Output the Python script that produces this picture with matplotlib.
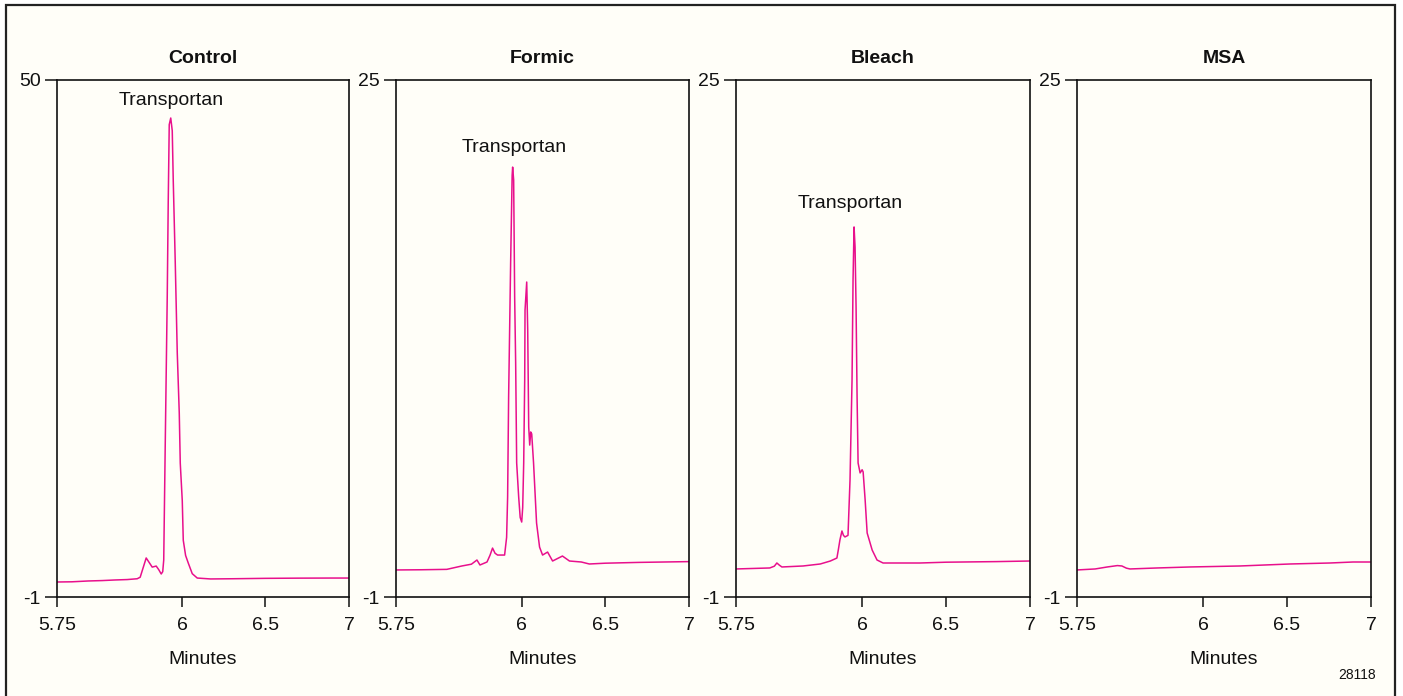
import numpy as np
import matplotlib
matplotlib.use("Agg")
import matplotlib.pyplot as plt
from matplotlib.patches import Rectangle
from matplotlib import font_manager as fm

_names = {f.name for f in fm.fontManager.ttflist}
if "Liberation Sans Narrow" in _names:
    FAMILY, FS, FS_SMALL = "Liberation Sans Narrow", 15, 11
elif "DejaVu Sans Condensed" in _names:
    FAMILY, FS, FS_SMALL = "DejaVu Sans Condensed", 13, 10
else:
    FAMILY, FS, FS_SMALL = "Liberation Sans", 14, 10
plt.rcParams['font.family'] = [FAMILY, 'DejaVu Sans']

# ---------------- data ----------------
panel_titles = ["Control", "Formic", "Bleach", "MSA"]
y_max = [50, 25, 25, 25]
y_min = -1
x_ticks = [5.75, 6, 6.5, 7]
x_tick_labels = ["5.75", "6", "6.5", "7"]

control_t = [5.75, 5.78, 5.812, 5.84, 5.866, 5.89, 5.91, 5.916, 5.922, 5.928, 5.934, 5.94,
             5.948, 5.953, 5.958, 5.961, 5.963, 5.966, 5.970, 5.972, 5.974, 5.977, 5.980,
             5.982, 5.986, 5.990, 5.994, 5.996, 6.0, 6.006, 6.02, 6.036, 6.06, 6.09, 6.17,
             6.3, 6.5, 6.7, 6.9, 7.0]
control_v = [0.48, 0.50, 0.58, 0.62, 0.68, 0.72, 0.80, 0.95, 1.9, 2.85, 2.4, 1.95,
             2.05, 1.7, 1.27, 1.5, 2.65, 14.0, 28.6, 38.0, 45.6, 46.25, 45.0,
             40.1, 32.0, 23.1, 17.15, 12.2, 8.5, 4.6, 3.1, 2.35, 1.3, 0.87, 0.78,
             0.80, 0.84, 0.86, 0.87, 0.87]

formic_t = [5.75, 5.80, 5.851, 5.881, 5.90, 5.911, 5.917, 5.931, 5.937, 5.942, 5.947, 5.952,
            5.966, 5.970, 5.972, 5.974, 5.978, 5.981, 5.982, 5.984, 5.986, 5.988, 5.990,
            5.994, 5.997, 6.0, 6.006, 6.012, 6.018, 6.02, 6.03, 6.036, 6.042, 6.048, 6.054,
            6.06, 6.071, 6.089, 6.107, 6.125, 6.155, 6.185, 6.244, 6.286, 6.357, 6.405,
            6.5, 6.7, 7.0]
formic_v = [0.36, 0.37, 0.39, 0.56, 0.65, 0.86, 0.61, 0.76, 1.1, 1.46, 1.2, 1.11,
            1.11, 2.0, 4.03, 9.06, 15.8, 20.2, 20.62, 19.97, 14.09, 10.77, 5.74,
            4.03, 3.0, 2.77, 3.5, 5.74, 9.91, 13.43, 14.84, 12.43, 7.55, 6.64, 7.3,
            7.2, 5.74, 2.72, 1.51, 1.11, 1.26, 0.81, 1.06, 0.81, 0.76, 0.66,
            0.70, 0.74, 0.78]

bleach_t = [5.75, 5.817, 5.826, 5.831, 5.836, 5.841, 5.883, 5.917, 5.937, 5.95, 5.953,
            5.956, 5.96, 5.963, 5.966, 5.972, 5.976, 5.98, 5.982, 5.984, 5.986, 5.988,
            5.99, 5.992, 5.996, 6.0, 6.006, 6.018, 6.030, 6.06, 6.089, 6.125, 6.345,
            6.5, 6.8, 7.0]
bleach_v = [0.41, 0.46, 0.55, 0.71, 0.6, 0.51, 0.56, 0.66, 0.81, 0.96, 1.4,
            1.87, 2.32, 2.1, 2.02, 2.1, 4.88, 9.91, 14.94, 17.61, 16.6, 13.58,
            9.06, 5.74, 5.24, 5.4, 5.29, 3.88, 2.22, 1.36, 0.86, 0.71, 0.71,
            0.75, 0.78, 0.81]

msa_t = [5.75, 5.786, 5.81, 5.83, 5.839, 5.848, 5.855, 5.909, 5.974, 6.22, 6.518,
         6.756, 6.893, 7.0]
msa_v = [0.36, 0.41, 0.51, 0.58, 0.56, 0.45, 0.41, 0.46, 0.51, 0.56, 0.66,
         0.71, 0.76, 0.76]

series_t = [control_t, formic_t, bleach_t, msa_t]
series_v = [control_v, formic_v, bleach_v, msa_v]

peak_label = "Transportan"
peak_label_xy = [(5.978, 48.0), (5.986, 21.63), (5.976, 18.81), None]

# ---------------- layout ----------------
W, H = 1403, 696
fig = plt.figure(figsize=(W / 100, H / 100), dpi=100)
fig.patch.set_facecolor("white")
bg = "#fffef8"
fig.patches.append(Rectangle((6 / W, -0.02), (1395 - 6) / W, 1.02 - 5 / H,
                             transform=fig.transFigure, facecolor=bg,
                             edgecolor="#222222", linewidth=1.6, zorder=-10))

axes_px = [(57, 292), (396, 293), (736, 294), (1077, 294)]
top_px, bot_px = 80, 597

# piecewise-linear time axis as in the original
XB = [5.75, 6.0, 6.5, 7.0]
FB = [0.0, 0.429, 0.714, 1.0]
fwd = lambda x: np.interp(x, XB, FB)
inv = lambda f: np.interp(f, FB, XB)

line_color = "#e8108c"
txt = "#111111"

for i, (left, width) in enumerate(axes_px):
    ax = fig.add_axes([left / W, (H - bot_px) / H, width / W, (bot_px - top_px) / H])
    ax.set_facecolor("none")
    ax.set_xscale("function", functions=(fwd, inv))
    ax.plot(series_t[i], series_v[i], color=line_color, lw=1.1)
    ax.set_xlim(5.75, 7)
    ax.set_ylim(y_min, y_max[i])
    ax.set_xticks(x_ticks)
    ax.set_xticklabels(x_tick_labels)
    ax.minorticks_off()
    ax.set_yticks([y_min, y_max[i]])
    ax.set_yticklabels([str(y_min), str(y_max[i])])
    for s in ax.spines.values():
        s.set_linewidth(1.2)
        s.set_color(txt)
    ax.tick_params(axis="x", direction="out", length=7.5, width=1.1, pad=7,
                   labelsize=FS, colors=txt)
    ax.tick_params(axis="y", direction="out", length=8.6, width=1.1, pad=3,
                   labelsize=FS, colors=txt)
    ax.set_title(panel_titles[i], fontsize=FS, fontweight="bold", pad=12, color=txt)
    ax.set_xlabel("Minutes", fontsize=FS, labelpad=12, color=txt)
    if peak_label_xy[i] is not None:
        ax.text(peak_label_xy[i][0], peak_label_xy[i][1], peak_label, fontsize=FS,
                ha="center", va="center", color=txt)

fig.text(1357 / W, 1 - 675 / H, "28118", fontsize=FS_SMALL, ha="center", va="center",
         color=txt)

fig.savefig("out.png", dpi=100, facecolor=fig.get_facecolor())
